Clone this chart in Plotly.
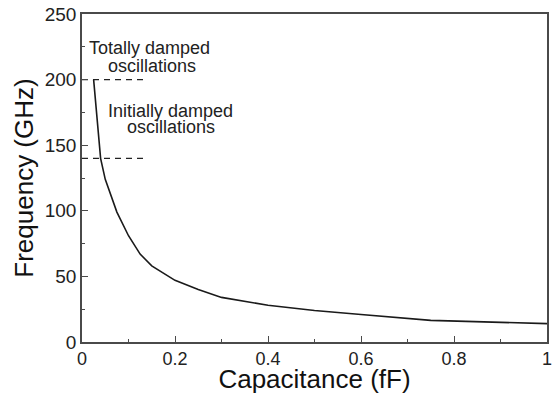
import plotly.graph_objects as go

# Data
capacitance = [0.025, 0.04, 0.05, 0.075, 0.1, 0.125, 0.15, 0.2, 0.25, 0.3, 0.4, 0.5, 0.6, 0.7, 0.75, 1.0]
frequency = [200, 140, 124, 99, 81, 67, 58, 47, 40, 34, 28, 24, 21, 18, 16.5, 14]

threshold_levels = [200, 140]
threshold_x = [0, 0.135]

x_ticks = [0, 0.2, 0.4, 0.6, 0.8, 1]
x_tick_labels = ["0", "0.2", "0.4", "0.6", "0.8", "1"]
y_ticks = [0, 50, 100, 150, 200, 250]
y_tick_labels = ["0", "50", "100", "150", "200", "250"]

FONT = "Liberation Sans, Arial, Helvetica, sans-serif"
AXIS_COLOR = "#4a4a4a"

fig = go.Figure()

for lvl in threshold_levels:
    fig.add_trace(go.Scatter(
        x=threshold_x, y=[lvl, lvl], mode="lines",
        line=dict(color="#222", width=1.3, dash="6px,5px"),
        showlegend=False, hoverinfo="skip"))

fig.add_trace(go.Scatter(
    x=capacitance, y=frequency, mode="lines",
    line=dict(color="#1a1a1a", width=1.6),
    showlegend=False))

annots = [
    ("Totally damped", 0.146, 224),
    ("oscillations", 0.150, 210.5),
    ("Initially damped", 0.190, 176),
    ("oscillations", 0.191, 163.5),
]
for txt, ax, ay in annots:
    fig.add_annotation(x=ax, y=ay, xref="x", yref="y", text=txt, showarrow=False,
                       xanchor="center", yanchor="middle",
                       font=dict(family=FONT, size=18, color="#222"))

fig.update_xaxes(
    range=[0, 1], tickvals=x_ticks, ticktext=x_tick_labels,
    ticks="inside", ticklen=6, tickwidth=1.2, tickcolor=AXIS_COLOR,
    minor=dict(dtick=0.1, ticks="inside", ticklen=3, tickwidth=1.2, tickcolor=AXIS_COLOR),
    showline=True, linecolor=AXIS_COLOR, linewidth=1.5, mirror=True,
    showgrid=False, zeroline=False, ticklabeloverflow="allow",
    tickfont=dict(family=FONT, size=18, color="#222"),
    title=dict(text="Capacitance (fF)", font=dict(family=FONT, size=26, color="#111"), standoff=0),
)
fig.update_yaxes(
    range=[0, 250], tickvals=y_ticks, ticktext=y_tick_labels,
    ticks="inside", ticklen=6, tickwidth=1.2, tickcolor=AXIS_COLOR,
    minor=dict(dtick=25, ticks="inside", ticklen=3, tickwidth=1.2, tickcolor=AXIS_COLOR),
    showline=True, linecolor=AXIS_COLOR, linewidth=1.5, mirror=True,
    showgrid=False, zeroline=False,
    tickfont=dict(family=FONT, size=19, color="#222"),
    title=dict(text="Frequency (GHz)", font=dict(family=FONT, size=26, color="#111"), standoff=4),
)

fig.update_layout(
    width=553, height=394,
    margin=dict(l=82, r=1, t=14, b=52),
    paper_bgcolor="white", plot_bgcolor="white",
    showlegend=False,
)

fig.write_html("out.html")
